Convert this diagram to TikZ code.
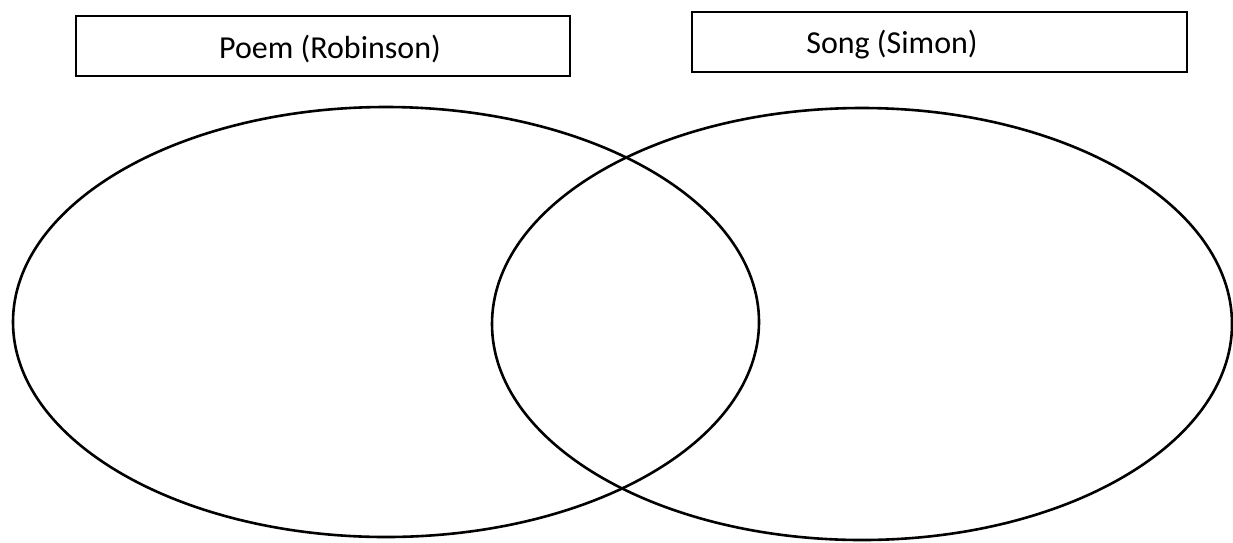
\documentclass[tikz,border=0pt]{standalone}
\usepackage{fontspec}
\setmainfont{Carlito}
\usetikzlibrary{shapes.geometric}
\begin{document}
\begin{tikzpicture}[x=1pt,y=-1pt,
  titlebox/.style={draw=black,line width=1.8pt,rectangle,inner sep=0pt},
  label/.style={font=\fontsize{32}{38}\selectfont,inner sep=0pt,anchor=center},
  setring/.style={draw=black,line width=2.6pt,ellipse,inner sep=0pt}]
\useasboundingbox (0,0) rectangle (1233,542);
\node[titlebox,minimum width=494pt,minimum height=60pt] (lbox) at (323,46) {};
\node[label] (ltext) at (330,49) {Poem (Robinson)};
\node[titlebox,minimum width=495pt,minimum height=60pt] (rbox) at (939.5,42) {};
\node[label] (rtext) at (892,45) {Song (Simon)};
\node[setring,minimum width=746pt,minimum height=430pt] (left) at (386,322) {};
\node[setring,minimum width=740pt,minimum height=432pt] (right) at (862,324) {};
\end{tikzpicture}
\end{document}
